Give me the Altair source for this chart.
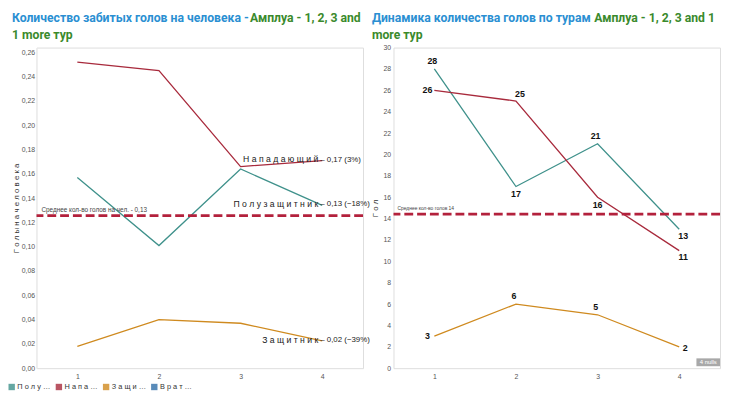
import altair as alt
import pandas as pd

# ---------------- data ----------------
rounds = [1, 2, 3, 4]
roles = ["Полузащитник", "Нападающий", "Защитник", "Вратарь"]
role_colors = ["#3f918b", "#a82a3c", "#cf8a1f", "#2f6ea8"]

# goals per person by round
pp_mid = [0.157, 0.101, 0.164, 0.134]
pp_fwd = [0.252, 0.245, 0.166, 0.171]
pp_def = [0.018, 0.040, 0.037, 0.0225]

# goals by round
goals_mid = [28, 17, 21, 13]
goals_fwd = [26, 25, 16, 11]
goals_def = [3, 6, 5, 2]

# where each goal label sits relative to its point
pos_mid = ["above", "below", "above", "belowright"]
pos_fwd = ["left", "aboveright", "below", "belowright"]
pos_def = ["left", "above", "above", "right"]

y_ticks_left = [0.00, 0.02, 0.04, 0.06, 0.08, 0.10, 0.12, 0.14, 0.16, 0.18, 0.20, 0.22, 0.24, 0.26]
y_ticks_right = [0, 2, 4, 6, 8, 10, 12, 14, 16, 18, 20, 22, 24, 26, 28, 30]

title_left_blue = "Количество забитых голов на человека -"
title_left_green1 = "Амплуа - 1, 2, 3 and"
title_left_green2 = "1 more тур"
title_right_blue = "Динамика количества голов по турам"
title_right_green1 = "Амплуа - 1, 2, 3 and 1"
title_right_green2 = "more тур"

BLUE = "#2a8fd2"
GREEN = "#3a8a2c"
MEAN_RED = "#b3213c"

# ---------------- tables ----------------
def long_table(mid, fwd, dfn, pos=None):
    rows = []
    for role, vals, p in ((roles[0], mid, pos[0] if pos else None),
                          (roles[1], fwd, pos[1] if pos else None),
                          (roles[2], dfn, pos[2] if pos else None)):
        for i, r in enumerate(rounds):
            row = {"тур": r, "role": role, "value": vals[i]}
            if p:
                row["pos"] = p[i]
            rows.append(row)
    return pd.DataFrame(rows)

df_pp = long_table(pp_mid, pp_fwd, pp_def)
df_goals = long_table(goals_mid, goals_fwd, goals_def, (pos_mid, pos_fwd, pos_def))

end_rows = []
for role, vals in ((roles[0], pp_mid), (roles[1], pp_fwd), (roles[2], pp_def)):
    pct = round((vals[3] / vals[2] - 1) * 100)
    end_rows.append({"тур": rounds[3], "role": role, "value": vals[3], "pct": pct})
df_end = pd.DataFrame(end_rows)

W_L, W_R, H = 332, 332, 326

color_scale = alt.Scale(domain=roles, range=role_colors)
legend_def = alt.Legend(
    orient="none", legendX=-29, legendY=341, direction="horizontal", title=None,
    symbolType="square", symbolSize=42, symbolStrokeWidth=0,
    labelFontSize=7.5, labelColor="#333",
    labelExpr="join(split(substring(datum.label, 0, 4), ''), ' ') + ' …'",
    columnPadding=4, labelOffset=2,
)

x_axis = alt.Axis(title=None, labelAngle=0, labelFontSize=7, labelColor="#555",
                  ticks=False, domain=False, grid=False, labelPadding=4)

# ---------------- left panel ----------------
y_scale_l = alt.Scale(domain=[0, 0.264], nice=False, zero=True)
y_axis_l = alt.Axis(
    title="Г о л ы   н а   ч е л о в е к а", values=y_ticks_left,
    labelExpr="replace(format(datum.value, '.2f'), '.', ',')",
    labelFontSize=7, labelColor="#555", ticks=False, grid=False,
    domain=True, domainColor="#eeeeee", labelPadding=2,
    titleFontSize=8, titleFontWeight="normal", titleColor="#333", titlePadding=1,
)
x_l = alt.X("тур:O", scale=alt.Scale(type="point", padding=0.5), axis=x_axis)
y_l = alt.Y("value:Q", scale=y_scale_l, axis=y_axis_l)

# invisible (zero-size) filled squares that only carry the colour legend
legend_pts = alt.Chart(df_pp).mark_square(filled=True, size=0, opacity=0.8).encode(
    x=x_l, y=y_l,
    color=alt.Color("role:N", scale=color_scale, legend=legend_def),
)

lines_l = alt.Chart(df_pp).mark_line(strokeWidth=1.3).encode(
    x=x_l, y=y_l,
    color=alt.Color("role:N", scale=color_scale, legend=None),
)

mean_l = alt.Chart(df_pp).transform_aggregate(m="mean(value)").mark_rule(
    color=MEAN_RED, strokeWidth=2.6, strokeDash=[9, 4]
).encode(y=alt.Y("m:Q", scale=y_scale_l, axis=y_axis_l))

mean_lab_l = alt.Chart(df_pp).transform_aggregate(m="mean(value)").transform_calculate(
    t="'Среднее кол-во голов на чел. - ' + replace(format(datum.m, '.2f'), '.', ',')"
).mark_text(align="left", baseline="bottom", fontSize=6.5, color="#444", dy=-3).encode(
    x=alt.value(5), y=alt.Y("m:Q", scale=y_scale_l, axis=y_axis_l), text="t:N"
)

end_name = alt.Chart(df_end).transform_calculate(
    t="join(split(datum.role, ''), ' ')"
).mark_text(align="right", baseline="middle", dx=-4, dy=-1, fontSize=8.8, color="#222").encode(
    x=x_l, y=y_l, text="t:N"
)
end_num = alt.Chart(df_end).transform_calculate(
    t="'– ' + replace(format(datum.value, '.2f'), '.', ',') + ' (' + replace(format(datum.pct, 'd'), '-', '–') + '%)'"
).mark_text(align="left", baseline="middle", dx=-2, dy=-1, fontSize=8, color="#222").encode(
    x=x_l, y=y_l, text="t:N"
)


def title_layer(text, color, x, y):
    return alt.Chart(pd.DataFrame({"t": [text]})).mark_text(
        align="left", baseline="middle", font="Roboto", fontWeight="bold",
        fontSize=12.4, color=color
    ).encode(x=alt.value(x), y=alt.value(y), text="t:N")


left = alt.layer(
    legend_pts, lines_l, mean_l, mean_lab_l, end_name, end_num,
    title_layer(title_left_blue, BLUE, -25, -30),
    title_layer(title_left_green1, GREEN, 217, -30),
    title_layer(title_left_green2, GREEN, -25, -13),
).properties(width=W_L, height=H)

# ---------------- right panel ----------------
y_scale_r = alt.Scale(domain=[0, 30], nice=False, zero=True)
y_axis_r = alt.Axis(
    title="Г о л", values=y_ticks_right,
    labelFontSize=7, labelColor="#555", ticks=False, grid=False,
    domain=False, labelPadding=3,
    titleFontSize=8, titleFontWeight="normal", titleColor="#333", titlePadding=3,
)
x_r = alt.X("тур:O", scale=alt.Scale(type="point", padding=0.5), axis=x_axis)
y_r = alt.Y("value:Q", scale=y_scale_r, axis=y_axis_r)

lines_r = alt.Chart(df_goals).mark_line(strokeWidth=1.3).encode(
    x=x_r, y=y_r, color=alt.Color("role:N", scale=color_scale, legend=None)
)
mean_r = alt.Chart(df_goals).transform_aggregate(m="mean(value)").mark_rule(
    color=MEAN_RED, strokeWidth=2.6, strokeDash=[9, 4]
).encode(y=alt.Y("m:Q", scale=y_scale_r, axis=y_axis_r))
mean_lab_r = alt.Chart(df_goals).transform_aggregate(m="mean(value)").transform_calculate(
    t="'Среднее кол-во голов ' + format(datum.m, '.0f')"
).mark_text(align="left", baseline="bottom", fontSize=5, color="#444", dy=-3).encode(
    x=alt.value(4), y=alt.Y("m:Q", scale=y_scale_r, axis=y_axis_r), text="t:N"
)

offsets = {
    "above": (-2, -8), "below": (0, 8), "left": (-7, 0), "right": (6, 1),
    "belowright": (4, 7), "aboveright": (4, -7),
}
label_layers = []
for p, (dx, dy) in offsets.items():
    label_layers.append(
        alt.Chart(df_goals).transform_filter(alt.datum.pos == p).mark_text(
            fontSize=9, fontWeight="bold", color="#111", dx=dx, dy=dy,
            baseline="middle", align="center",
        ).encode(x=x_r, y=y_r, text="value:Q")
    )

badge_rect = alt.Chart(pd.DataFrame({"t": ["4 nulls"]})).mark_rect(color="#a8a8a8").encode(
    x=alt.value(308), x2=alt.value(332), y=alt.value(316), y2=alt.value(324)
)
badge_text = alt.Chart(pd.DataFrame({"t": ["4 nulls"]})).mark_text(
    fontSize=6, color="white", baseline="middle", align="center"
).encode(x=alt.value(320), y=alt.value(320), text="t:N")

right = alt.layer(
    lines_r, mean_r, mean_lab_r, *label_layers, badge_rect, badge_text,
    title_layer(title_right_blue, BLUE, -22, -30),
    title_layer(title_right_green1, GREEN, 204, -30),
    title_layer(title_right_green2, GREEN, -22, -13),
).properties(width=W_R, height=H)

chart = alt.hconcat(left, right, spacing=0).properties(padding=0).configure_view(
    stroke=None
).configure(font="Liberation Sans")

chart.save("out.html", embed_options={"renderer": "svg", "actions": False})
